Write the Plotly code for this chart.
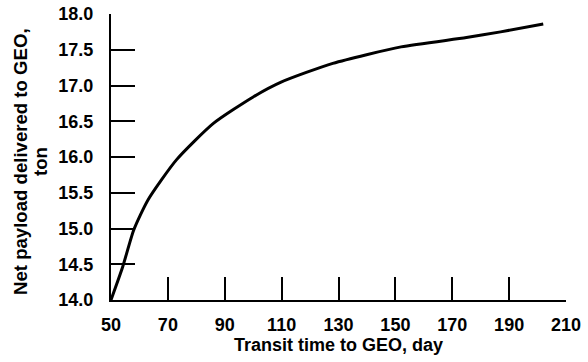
import plotly.graph_objects as go

transit_days = [50, 54, 58, 63, 73, 86, 100, 110, 128, 152, 175, 187, 202]
payload_ton = [14.0, 14.45, 14.98, 15.40, 15.96, 16.47, 16.84, 17.05, 17.31, 17.54, 17.67, 17.75, 17.86]

x_ticks = [50, 70, 90, 110, 130, 150, 170, 190, 210]
y_ticks = [14.0, 14.5, 15.0, 15.5, 16.0, 16.5, 17.0, 17.5, 18.0]

y_title_lines = ["Net payload delivered to GEO,", "ton"]

FONT = "Liberation Sans"

fig = go.Figure()
fig.add_trace(go.Scatter(
    x=transit_days, y=payload_ton, mode="lines",
    line=dict(color="black", width=3, shape="spline", smoothing=0.6),
    showlegend=False, hoverinfo="skip"))

fig.update_layout(
    width=588, height=362,
    margin=dict(l=111, r=22, t=14, b=62, autoexpand=False),
    paper_bgcolor="white", plot_bgcolor="white",
    font=dict(family=FONT, size=18, color="black", weight="bold"),
    xaxis=dict(
        range=[50, 210], tickvals=x_ticks, ticktext=[str(v) for v in x_ticks],
        ticks="inside", ticklen=23, tickwidth=2, tickcolor="black",
        showline=True, linecolor="black", linewidth=2, mirror=False,
        showgrid=False, zeroline=False, ticklabelstandoff=7, automargin=False,
        tickfont=dict(family=FONT, size=18, weight="bold"),
        title=dict(text="Transit time to GEO, day", standoff=4,
                   font=dict(family=FONT, size=18, weight="bold")),
    ),
    yaxis=dict(
        range=[14, 18], tickvals=y_ticks, ticktext=[f"{v:.1f}" for v in y_ticks],
        ticks="inside", ticklen=24, tickwidth=2, tickcolor="black",
        showline=True, linecolor="black", linewidth=2, mirror=False,
        showgrid=False, zeroline=False, ticklabelstandoff=12, automargin=False,
        tickfont=dict(family=FONT, size=18, weight="bold"),
    ),
)

for i, line in enumerate(y_title_lines):
    fig.add_annotation(
        text=line, textangle=-90, showarrow=False,
        xref="paper", yref="paper", x=0, y=0.5,
        xanchor="center", yanchor="middle",
        xshift=-91 + 20 * i, yshift=-5,
        font=dict(family=FONT, size=18.6, weight="bold", color="black"))

fig.write_html("out.html")
